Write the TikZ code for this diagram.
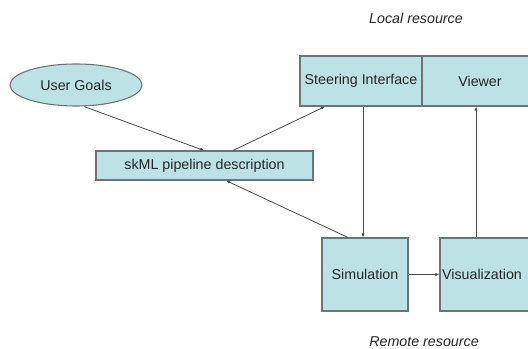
\documentclass[tikz,border=0pt]{standalone}
\usepackage{fontspec}
\setmainfont{Liberation Sans}
\usetikzlibrary{shapes.geometric,arrows.meta}
\definecolor{boxfill}{HTML}{BDE2E5}
\definecolor{boxline}{HTML}{6E7475}
\definecolor{arrline}{HTML}{4A4A4A}
\begin{document}
\begin{tikzpicture}[x=0.75pt,y=-0.75pt,
  every node/.style={font=\fontsize{10.7}{13}\selectfont, text=black!85},
  boxnode/.style={draw=boxline, line width=0.8pt, fill=boxfill, inner sep=0pt},
  conn/.style={draw=arrline, line width=0.6pt, -{Latex[length=3pt,width=2.4pt]}},
  lbl/.style={font=\fontsize{10.7}{13}\selectfont\itshape}]
\useasboundingbox (0,0) rectangle (528,349);
\clip (-5,-5) rectangle (535,354);
\node[boxnode, ellipse, minimum width=99pt, minimum height=31.5pt] (ug) at (76,85) {User Goals};
\node[boxnode, minimum width=162.75pt, minimum height=21.75pt] (sk) at (204.5,165.5) {skML pipeline description};
\node[boxnode, minimum width=91.5pt, minimum height=37.5pt] (st) at (361,81) {Steering Interface};
\node[boxnode, minimum width=105pt, minimum height=37.5pt] (vw) at (492,81) {};
\node (vwt) at (480,81) {Viewer};
\node[boxnode, minimum width=90pt, minimum height=54.75pt] (vis) at (500,274.5) {};
\node (vist) at (482,274.5) {Visualization};
\node[boxnode, minimum width=64.5pt, minimum height=54.75pt] (sim) at (365,274.5) {Simulation};
\node[lbl] (loc) at (416,18) {Local resource};
\node[lbl] (rem) at (424,342) {Remote resource};
\draw[conn] ([xshift=6pt]ug.south) -- ([xshift=-0.4pt]sk.north);
\draw[conn] ([xshift=21.4pt]sk.north) -- ([xshift=-27pt]st.south);
\draw[conn] ([xshift=1.5pt]st.south) -- ([xshift=-1.5pt]sim.north);
\draw[conn] ([xshift=-12.75pt]sim.north) -- ([xshift=16pt]sk.south);
\draw[conn] (sim.east) -- (vis.west);
\draw[conn] ([xshift=-18pt]vis.north) -- ([xshift=-12pt]vw.south);
\end{tikzpicture}
\end{document}
